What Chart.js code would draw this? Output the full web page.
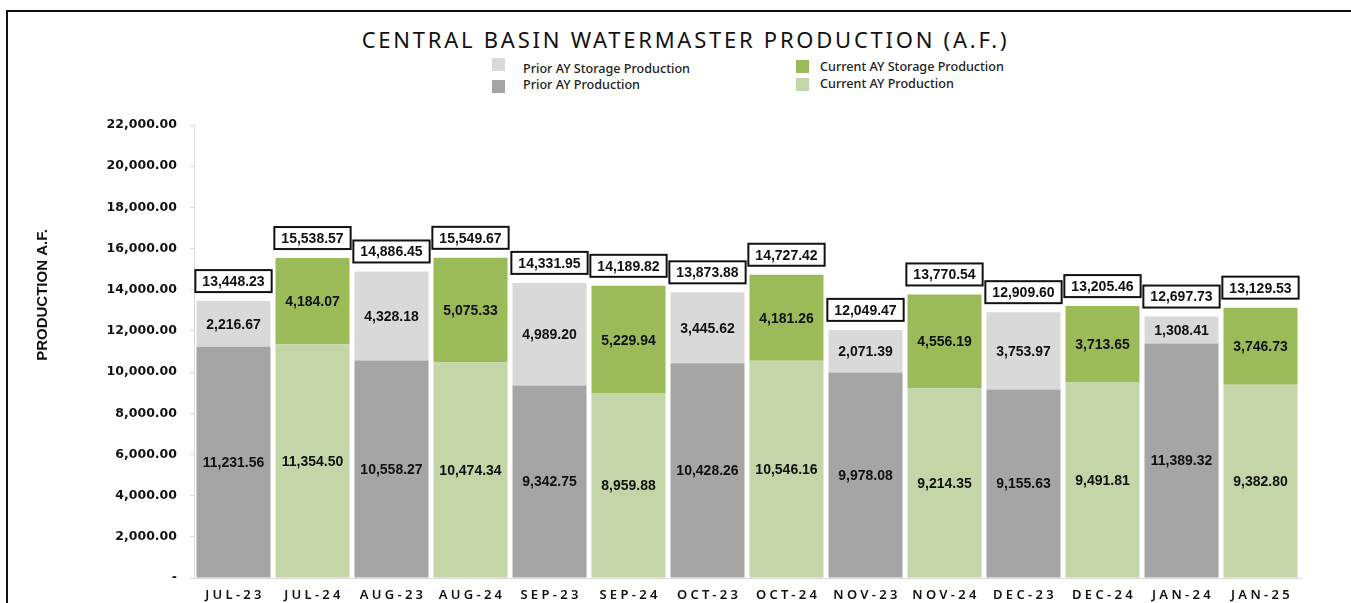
<!DOCTYPE html>
<html lang="en">
<head>
    <meta charset="UTF-8">
    <title>Central Basin Watermaster Production</title>
    <!-- Chart.js -->
    <script src="https://cdn.jsdelivr.net/npm/chart.js"></script>
    <style>
        body {
            margin: 0;
            background: #fff;
            font-family: 'Noto Sans', sans-serif;
        }
        #wrap {
            position: relative;
            width: 1351px;
            height: 603px;
            overflow: hidden;
        }
        #frame {
            position: absolute;
            left: 6px;
            top: 10px;
            width: 1500px;
            height: 800px;
            border-top: 2px solid #111;
            border-left: 2px solid #111;
        }
        #title {
            position: absolute;
            top: 28px;
            left: 0;
            width: 1371px;
            text-align: center;
            font-size: 22px;
            line-height: 22px;
            letter-spacing: 2.75px;
            color: #111;
        }
        .leg-box {
            position: absolute;
            width: 13px;
            height: 13px;
        }
        .leg-text {
            position: absolute;
            font-size: 12.6px;
            line-height: 14px;
            font-weight: 500;
            color: #222;
            white-space: nowrap;
        }
        canvas {
            position: absolute;
            left: 0;
            top: 0;
        }
    </style>
</head>
<body>
<div id="wrap">
    <div id="frame"></div>
    <div id="title">CENTRAL BASIN WATERMASTER PRODUCTION (A.F.)</div>
    <div id="legend"></div>
    <canvas id="barChart" width="1351" height="603"></canvas>
</div>

<script>
    // months: prior year (-23/-24) next to the current year (-24/-25)
    const categories = ['JUL-23', 'JUL-24', 'AUG-23', 'AUG-24', 'SEP-23', 'SEP-24', 'OCT-23',
        'OCT-24', 'NOV-23', 'NOV-24', 'DEC-23', 'DEC-24', 'JAN-24', 'JAN-25'];

    const priorProduction = [11231.56, null, 10558.27, null, 9342.75, null, 10428.26,
        null, 9978.08, null, 9155.63, null, 11389.32, null];
    const priorStorage = [2216.67, null, 4328.18, null, 4989.20, null, 3445.62,
        null, 2071.39, null, 3753.97, null, 1308.41, null];
    const currentProduction = [null, 11354.50, null, 10474.34, null, 8959.88, null,
        10546.16, null, 9214.35, null, 9491.81, null, 9382.80];
    const currentStorage = [null, 4184.07, null, 5075.33, null, 5229.94, null,
        4181.26, null, 4556.19, null, 3713.65, null, 3746.73];

    // labels shown in the boxes above each bar
    const totals = [13448.23, 15538.57, 14886.45, 15549.67, 14331.95, 14189.82, 13873.88,
        14727.42, 12049.47, 13770.54, 12909.60, 13205.46, 12697.73, 13129.53];

    const yMax = 22000;
    const yStep = 2000;

    const fmt = v => v.toLocaleString('en-US', { minimumFractionDigits: 2, maximumFractionDigits: 2 });

    const datasets = [
        { label: 'Prior AY Production', data: priorProduction, backgroundColor: '#a5a5a5' },
        { label: 'Current AY Production', data: currentProduction, backgroundColor: '#c4d6a8' },
        { label: 'Prior AY Storage Production', data: priorStorage, backgroundColor: '#d9d9d9' },
        { label: 'Current AY Storage Production', data: currentStorage, backgroundColor: '#9bbb59' }
    ];

    // legend is laid out in two columns like the original
    const legendSpots = {
        'Prior AY Storage Production': { bx: 492, by: 58, tx: 523, ty: 62 },
        'Prior AY Production': { bx: 492, by: 80, tx: 523, ty: 78 },
        'Current AY Storage Production': { bx: 796, by: 60, tx: 820, ty: 60 },
        'Current AY Production': { bx: 796, by: 78, tx: 820, ty: 77 }
    };
    const legendEl = document.getElementById('legend');
    datasets.forEach(ds => {
        const p = legendSpots[ds.label];
        const box = document.createElement('div');
        box.className = 'leg-box';
        box.style.left = p.bx + 'px';
        box.style.top = p.by + 'px';
        box.style.background = ds.backgroundColor;
        const txt = document.createElement('div');
        txt.className = 'leg-text';
        txt.style.left = p.tx + 'px';
        txt.style.top = p.ty + 'px';
        txt.textContent = ds.label;
        legendEl.appendChild(box);
        legendEl.appendChild(txt);
    });

    // values inside the segments, boxed totals, x labels and the y title
    const labelPlugin = {
        id: 'barLabels',
        afterDatasetsDraw(chart) {
            const ctx = chart.ctx;
            const x = chart.scales.x;
            const y = chart.scales.y;
            ctx.save();
            ctx.fillStyle = '#111';
            ctx.font = 'bold 14px "Liberation Sans", sans-serif';
            ctx.textAlign = 'center';
            ctx.textBaseline = 'middle';
            chart.data.datasets.forEach((ds, di) => {
                const meta = chart.getDatasetMeta(di);
                meta.data.forEach((bar, i) => {
                    if (ds.data[i] == null) return;
                    ctx.fillText(fmt(ds.data[i]), bar.x, (bar.y + bar.base) / 2 + 1);
                });
            });

            totals.forEach((t, i) => {
                const cx = x.getPixelForValue(i);
                const top = y.getPixelForValue(t);
                const text = fmt(t);
                const w = ctx.measureText(text).width + 14;
                const h = 22;
                const by = top - 9 - h;
                ctx.fillStyle = '#fff';
                ctx.fillRect(cx - w / 2, by, w, h);
                ctx.lineWidth = 2;
                ctx.strokeStyle = '#111';
                ctx.strokeRect(cx - w / 2, by, w, h);
                ctx.fillStyle = '#111';
                ctx.fillText(text, cx, by + h / 2 + 1);
            });

            ctx.font = '600 13px "Noto Sans", sans-serif';
            ctx.letterSpacing = '3.3px';
            categories.forEach((c, i) => {
                ctx.fillText(c, x.getPixelForValue(i) + 1.5, 595);
            });
            ctx.letterSpacing = '0px';

            ctx.translate(43, 295);
            ctx.rotate(-Math.PI / 2);
            ctx.font = 'bold 15px "Liberation Sans", sans-serif';
            ctx.fillText('PRODUCTION A.F.', 0, 0);
            ctx.restore();
        }
    };

    new Chart(document.getElementById('barChart').getContext('2d'), {
        type: 'bar',
        data: { labels: categories, datasets: datasets },
        options: {
            responsive: false,
            animation: false,
            layout: { padding: { top: 125, right: 51, left: 0, bottom: 0 } },
            datasets: { bar: { barPercentage: 0.937, categoryPercentage: 1 } },
            plugins: {
                legend: { display: false },
                tooltip: { enabled: false }
            },
            scales: {
                x: {
                    stacked: true,
                    grid: { display: false },
                    border: { color: '#d9d9d9', width: 1 },
                    ticks: { display: false },
                    afterFit(s) { s.height = 25; }
                },
                y: {
                    stacked: true,
                    min: 0,
                    max: yMax,
                    ticks: {
                        stepSize: yStep,
                        padding: 13,
                        color: '#111',
                        font: { family: 'DejaVu Sans', size: 12.5, weight: 'bold' },
                        callback: v => v === 0 ? '-' : fmt(v)
                    },
                    grid: { drawOnChartArea: false, tickLength: 4, color: '#d9d9d9' },
                    border: { color: '#d9d9d9', width: 1 },
                    afterFit(s) { s.width = 194; }
                }
            }
        },
        plugins: [labelPlugin]
    });
</script>
</body>
</html>
